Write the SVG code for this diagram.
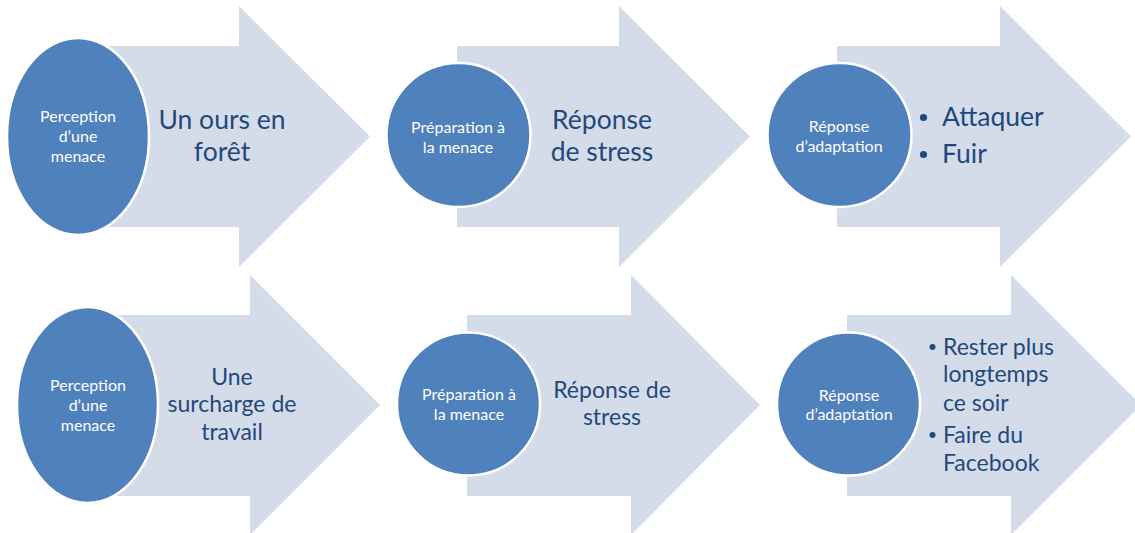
<svg xmlns="http://www.w3.org/2000/svg" width="1135" height="533" viewBox="0 0 1135 533">
  <style>
    .arrow { fill: #D5DCE9; }
    .disc { fill: #4F81BD; stroke: #FFFFFF; stroke-width: 2.5; }
    .label { font-family: Lato, "Liberation Sans", sans-serif; fill: #FFFFFF; font-size: 16px; text-anchor: middle; }
    .big { font-family: Lato, "Liberation Sans", sans-serif; fill: #1F497D; font-size: 26.5px; text-anchor: middle; }
    .mid { font-family: Lato, "Liberation Sans", sans-serif; fill: #1F497D; font-size: 23px; text-anchor: middle; }
    .item { font-family: Lato, "Liberation Sans", sans-serif; fill: #1F497D; }
    .dot { fill: #1F497D; }
  </style>
  <rect width="1135" height="533" fill="#FFFFFF"/>

  <!-- Row 1: bear in the forest -->
  <g id="row1-perception">
    <polygon class="arrow" points="77,46 239,46 239,6 370,136.5 239,267 239,227 77,227"/>
    <ellipse class="disc" cx="78" cy="136.5" rx="71" ry="98.5"/>
    <text class="label" x="78" y="122">Perception</text>
    <text class="label" x="78" y="142">d’une</text>
    <text class="label" x="78" y="162">menace</text>
    <text class="big" x="222" y="129">Un ours en</text>
    <text class="big" x="222" y="161">forêt</text>
  </g>

  <g id="row1-preparation">
    <polygon class="arrow" points="457,46 619,46 619,6 750,136.5 619,267 619,227 457,227"/>
    <circle class="disc" cx="458.5" cy="135" r="72"/>
    <text class="label" x="458" y="133">Préparation à</text>
    <text class="label" x="458" y="153">la menace</text>
    <text class="big" x="602" y="129">Réponse</text>
    <text class="big" x="602" y="161">de stress</text>
  </g>

  <g id="row1-adaptation">
    <polygon class="arrow" points="837,46 1000,46 1000,6 1131,136.5 1000,267 1000,227 837,227"/>
    <circle class="disc" cx="839.5" cy="135" r="72"/>
    <text class="label" x="839" y="132">Réponse</text>
    <text class="label" x="839" y="152">d’adaptation</text>
    <circle class="dot" cx="923.5" cy="117.5" r="3.6"/>
    <text class="item" x="942" y="126" font-size="26.5">Attaquer</text>
    <circle class="dot" cx="923.5" cy="154.5" r="3.6"/>
    <text class="item" x="942" y="163" font-size="26.5">Fuir</text>
  </g>

  <!-- Row 2: work overload -->
  <g id="row2-perception">
    <polygon class="arrow" points="87,315 250,315 250,275 380,405 250,535 250,496 87,496"/>
    <ellipse class="disc" cx="87.5" cy="405" rx="70.5" ry="98"/>
    <text class="label" x="88" y="391">Perception</text>
    <text class="label" x="88" y="411">d’une</text>
    <text class="label" x="88" y="431">menace</text>
    <text class="mid" x="232" y="385">Une</text>
    <text class="mid" x="232" y="412">surcharge de</text>
    <text class="mid" x="232" y="440">travail</text>
  </g>

  <g id="row2-preparation">
    <polygon class="arrow" points="467,315 631,315 631,275 760,405 631,535 631,496 467,496"/>
    <circle class="disc" cx="468.5" cy="404" r="71.5"/>
    <text class="label" x="469" y="400">Préparation à</text>
    <text class="label" x="469" y="420">la menace</text>
    <text class="mid" x="612" y="398">Réponse de</text>
    <text class="mid" x="612" y="425">stress</text>
  </g>

  <g id="row2-adaptation">
    <polygon class="arrow" points="847,315 1011,315 1011,275 1141,405 1011,535 1011,496 847,496"/>
    <circle class="disc" cx="848.5" cy="404" r="71.5"/>
    <text class="label" x="849" y="401">Réponse</text>
    <text class="label" x="849" y="420">d’adaptation</text>
    <circle class="dot" cx="932.5" cy="347" r="3"/>
    <text class="item" x="943" y="355" font-size="23">Rester plus</text>
    <text class="item" x="943" y="382" font-size="23">longtemps</text>
    <text class="item" x="943" y="411" font-size="23">ce soir</text>
    <circle class="dot" cx="932.5" cy="435" r="3"/>
    <text class="item" x="943" y="443" font-size="23">Faire du</text>
    <text class="item" x="943" y="471" font-size="23">Facebook</text>
  </g>

  <g id="connectors"/>
</svg>
